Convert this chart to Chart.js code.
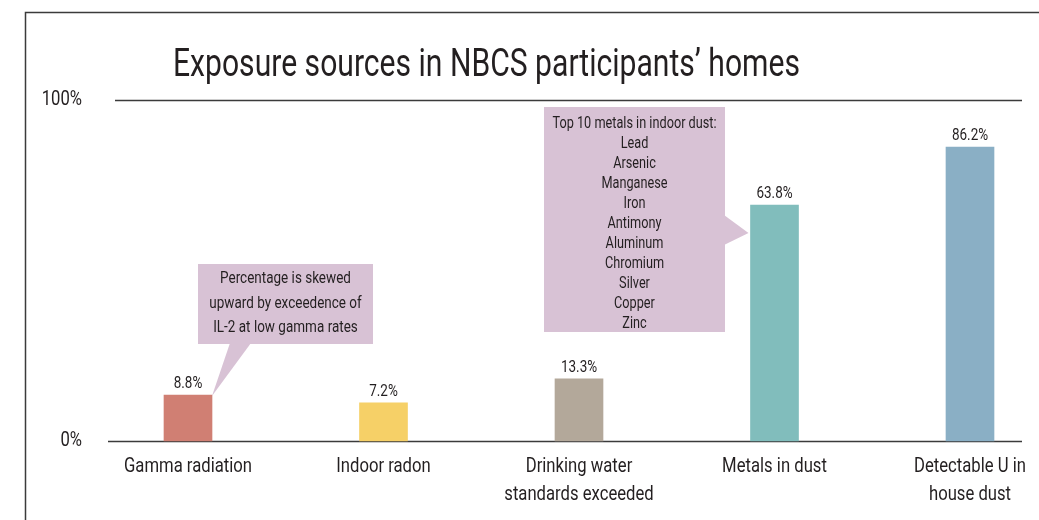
<!DOCTYPE html>
<html>
<head>
<meta charset="utf-8">
<script src="https://cdn.jsdelivr.net/npm/chart.js@4"></script>
<style>
  html, body { margin: 0; padding: 0; background: #ffffff; overflow: hidden; }
  #wrap { position: relative; width: 1039px; height: 520px; }
</style>
</head>
<body>
<div id="wrap"><canvas id="c" width="1039" height="520"></canvas></div>
<script>
// ---- data ----
const categories = [
  ["Gamma radiation"],
  ["Indoor radon"],
  ["Drinking water", "standards exceeded"],
  ["Metals in dust"],
  ["Detectable U in", "house dust"]
];
const valueLabels = ["8.8%", "7.2%", "13.3%", "63.8%", "86.2%"];
// bar heights as drawn in the reference (percent of the 0–100% axis)
const barHeights = [13.5, 11.2, 18.2, 69.2, 86.2];
const yTickValues = [0, 100];
const yTickLabels = ["0%", "100%"];
const barColors = ["#d07f73", "#f6d067", "#b3a89a", "#81bdbc", "#8aafc5"];
const titleText = "Exposure sources in NBCS participants\u2019 homes";
const note1Lines = ["Percentage is skewed", "upward by exceedence of", "IL-2 at low gamma rates"];
const note2Lines = ["Top 10 metals in indoor dust:", "Lead", "Arsenic", "Manganese", "Iron",
  "Antimony", "Aluminum", "Chromium", "Silver", "Copper", "Zinc"];

const FONT = 'Roboto, "Noto Sans", "DejaVu Sans", sans-serif';
const INK = "#231f20";
const LINE = "#3b3b3b";
const NOTE = "#d8c2d5";

let squeeze = 1;
function txt(ctx, s, x, y, size, align) {
  ctx.save();
  ctx.font = size + "px " + FONT;
  ctx.textAlign = align || "center";
  ctx.textBaseline = "middle";
  ctx.translate(x, y);
  ctx.scale(squeeze, 1);
  ctx.fillText(s, 0, 0);
  ctx.restore();
}

const decor = {
  id: "decor",
  beforeDraw(chart) {
    const ctx = chart.ctx;
    ctx.save();
    ctx.font = "21px " + FONT;
    squeeze = 128 / ctx.measureText("Gamma radiation").width;
    // frame
    ctx.strokeStyle = LINE;
    ctx.lineWidth = 1.5;
    ctx.beginPath();
    ctx.moveTo(25.5, 520);
    ctx.lineTo(25.5, 12.5);
    ctx.lineTo(1039, 12.5);
    ctx.stroke();
    // title
    ctx.fillStyle = INK;
    ctx.font = "38px " + FONT;
    ctx.textAlign = "left";
    ctx.textBaseline = "alphabetic";
    const w = ctx.measureText(titleText).width;
    ctx.translate(173, 76);
    ctx.scale(627 / w, 1);
    ctx.fillText(titleText, 0, 0);
    ctx.restore();

    // axis lines
    const y = chart.scales.y;
    ctx.save();
    ctx.strokeStyle = LINE;
    ctx.lineWidth = 1.5;
    const y100 = Math.round(y.getPixelForValue(100)) + 0.5;
    const y0 = Math.round(y.getPixelForValue(0)) + 0.5;
    ctx.beginPath();
    ctx.moveTo(115, y100); ctx.lineTo(1022, y100);
    ctx.moveTo(108, y0); ctx.lineTo(1022, y0);
    ctx.stroke();

    // y tick labels
    ctx.fillStyle = INK;
    yTickValues.forEach((v, i) => txt(ctx, yTickLabels[i], 82, y.getPixelForValue(v), 21, "right"));

    // x category labels
    const x = chart.scales.x;
    categories.forEach((lines, i) => {
      const cx = x.getPixelForTick(i);
      lines.forEach((t, j) => txt(ctx, t, cx, 467 + j * 28, 21, "center"));
    });
    ctx.restore();
  },
  afterDatasetsDraw(chart) {
    const ctx = chart.ctx;
    const meta = chart.getDatasetMeta(0);
    ctx.save();
    ctx.fillStyle = INK;
    meta.data.forEach((bar, i) => txt(ctx, valueLabels[i], bar.x, bar.y - 11, 17));

    // callout 1 (gamma)
    const g = meta.data[0];
    ctx.fillStyle = NOTE;
    ctx.fillRect(198, 264, 175, 80);
    ctx.beginPath();
    ctx.moveTo(230, 343);
    ctx.lineTo(251, 343);
    ctx.lineTo(g.x + g.width / 2, g.y + 1);
    ctx.closePath();
    ctx.fill();
    ctx.fillStyle = INK;
    note1Lines.forEach((t, i) => txt(ctx, t, 285.5, 279 + i * 24.5, 17));

    // callout 2 (metals)
    const m = meta.data[3];
    ctx.fillStyle = NOTE;
    ctx.fillRect(544, 107, 181, 225);
    ctx.beginPath();
    ctx.moveTo(724, 215);
    ctx.lineTo(724, 245);
    ctx.lineTo(m.x - m.width / 2 - 2, 233);
    ctx.closePath();
    ctx.fill();
    ctx.fillStyle = INK;
    note2Lines.forEach((t, i) => txt(ctx, t, 634.5, 124 + i * 20, 16));
    ctx.restore();
  }
};

new Chart(document.getElementById("c"), {
  type: "bar",
  data: {
    labels: categories,
    datasets: [{
      data: barHeights,
      backgroundColor: barColors,
      borderWidth: 0,
      barThickness: 48,
      clip: false
    }]
  },
  options: {
    responsive: false,
    animation: false,
    events: [],
    layout: { padding: { top: 100, right: 69, left: 188, bottom: 79 } },
    plugins: { legend: { display: false }, tooltip: { enabled: false }, title: { display: false } },
    scales: {
      x: { display: false, offset: false },
      y: { display: false, min: 0, max: 100 }
    }
  },
  plugins: [decor]
});
</script>
</body>
</html>
